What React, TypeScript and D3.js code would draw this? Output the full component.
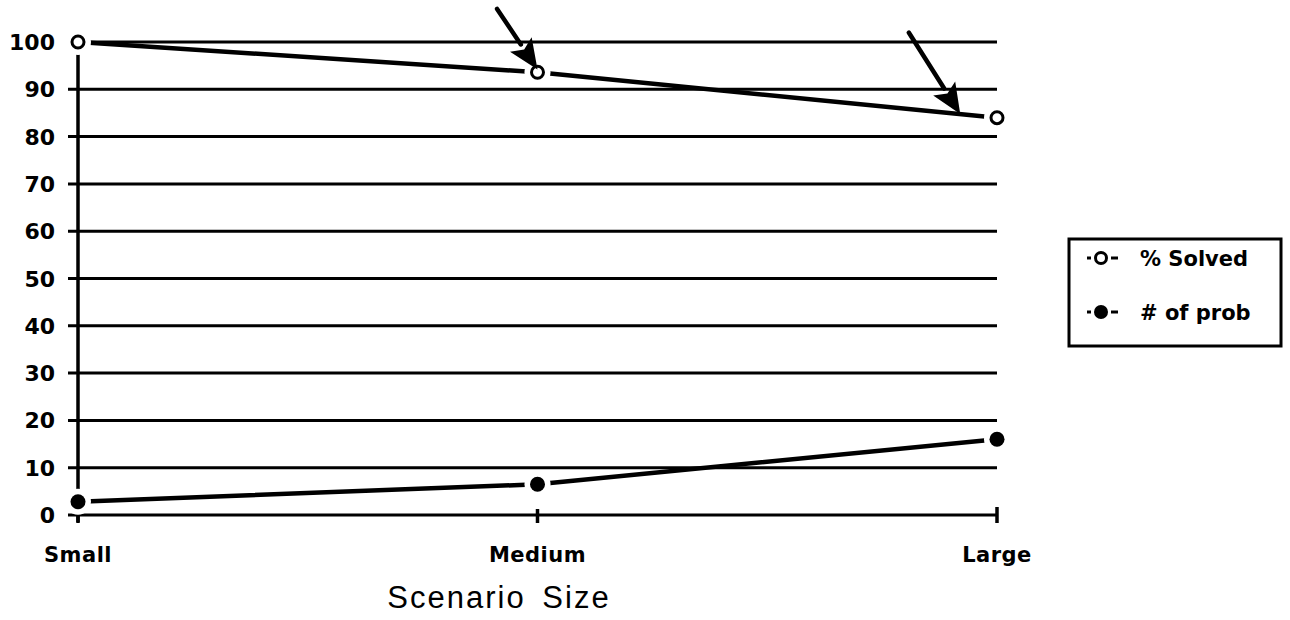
import { useEffect, useRef } from 'react';
import * as d3 from 'd3';

// chart values
const categories = ['Small', 'Medium', 'Large'];
const pctSolved = [100, 93.6, 84];
const numProb = [2.8, 6.5, 16];
const yTicks = [0, 10, 20, 30, 40, 50, 60, 70, 80, 90, 100];
const legendLabels = ['% Solved', '# of prob'];
// annotation arrows: [tailIndex, tailValue, tipIndex, tipValue]
const arrows = [
  [0.912, 107, 1.0, 94.2],
  [1.808, 102, 1.92, 84.8],
];

const WIDTH = 1290;
const HEIGHT = 620;
const FONT = '"Liberation Sans", Arial, sans-serif';
const BOLD = '"DejaVu Sans", Verdana, sans-serif';

export default function App() {
  const svgRef = useRef<SVGSVGElement>(null);

  useEffect(() => {
    if (!svgRef.current) return;
    const svg = d3.select(svgRef.current);
    svg.selectAll('*').remove();

    const x = d3.scaleLinear().domain([0, categories.length - 1]).range([78, 997]);
    const y = d3.scaleLinear().domain([0, 100]).range([515, 42]);

    const g = svg.append('g');

    // horizontal grid lines (with small left tick)
    g.selectAll('line.grid')
      .data(yTicks)
      .enter()
      .append('line')
      .attr('class', 'grid')
      .attr('x1', x(0) - 10)
      .attr('x2', x(2))
      .attr('y1', (d) => y(d))
      .attr('y2', (d) => y(d))
      .attr('stroke', '#000')
      .attr('stroke-width', 3);

    // y axis line
    g.append('line')
      .attr('x1', x(0))
      .attr('x2', x(0))
      .attr('y1', y(100))
      .attr('y2', y(0) + 7)
      .attr('stroke', '#000')
      .attr('stroke-width', 3.5);

    // x ticks
    g.selectAll('line.xtick')
      .data(categories)
      .enter()
      .append('line')
      .attr('x1', (_, i) => x(i))
      .attr('x2', (_, i) => x(i))
      .attr('y1', (_, i) => y(0) - (i === 2 ? 8 : 6))
      .attr('y2', y(0) + 8)
      .attr('stroke', '#000')
      .attr('stroke-width', 3.5);

    // y labels
    g.selectAll('text.ylab')
      .data(yTicks)
      .enter()
      .append('text')
      .attr('x', 55)
      .attr('y', (d) => y(d) + 8)
      .attr('text-anchor', 'end')
      .attr('font-family', BOLD)
      .attr('font-weight', 'bold')
      .attr('font-size', 22)
      .text((d) => d);

    // x labels
    g.selectAll('text.xlab')
      .data(categories)
      .enter()
      .append('text')
      .attr('x', (_, i) => x(i))
      .attr('y', 562)
      .attr('text-anchor', 'middle')
      .attr('font-family', BOLD)
      .attr('font-weight', 'bold')
      .attr('font-size', 21)
      .attr('letter-spacing', 0.5)
      .text((d) => d);

    // axis title
    g.append('text')
      .attr('x', 499)
      .attr('y', 608)
      .attr('text-anchor', 'middle')
      .attr('font-family', FONT)
      .attr('font-size', 31)
      .attr('letter-spacing', 2)
      .attr('word-spacing', 6)
      .text('Scenario Size');

    const line = d3
      .line<number>()
      .x((_, i) => x(i))
      .y((d) => y(d));

    [pctSolved, numProb].forEach((series) => {
      g.append('path')
        .datum(series)
        .attr('fill', 'none')
        .attr('stroke', '#000')
        .attr('stroke-width', 4.5)
        .attr('d', line);
    });

    // markers with white halo
    const drawMarker = (cx: number, cy: number, open: boolean) => {
      g.append('circle').attr('cx', cx).attr('cy', cy).attr('r', 13).attr('fill', '#fff');
      if (open) {
        g.append('circle')
          .attr('cx', cx)
          .attr('cy', cy)
          .attr('r', 6)
          .attr('fill', '#fff')
          .attr('stroke', '#000')
          .attr('stroke-width', 3);
      } else {
        g.append('circle').attr('cx', cx).attr('cy', cy).attr('r', 7.5).attr('fill', '#000');
      }
    };
    pctSolved.forEach((v, i) => drawMarker(x(i), y(v), true));
    numProb.forEach((v, i) => drawMarker(x(i), y(v), false));

    // annotation arrows
    arrows.forEach(([ti, tv, hi, hv]) => {
      const x0 = x(ti);
      const y0 = y(tv);
      const x1 = x(hi);
      const y1 = y(hv);
      const ang = Math.atan2(y1 - y0, x1 - x0);
      const len = 30;
      const hw = 13;
      const bx = x1 - len * Math.cos(ang);
      const by = y1 - len * Math.sin(ang);
      g.append('line')
        .attr('x1', x0)
        .attr('y1', y0)
        .attr('x2', bx)
        .attr('y2', by)
        .attr('stroke', '#000')
        .attr('stroke-width', 4.5)
        .attr('stroke-linecap', 'round');
      const pts: [number, number][] = [
        [x1, y1],
        [bx + hw * Math.sin(ang), by - hw * Math.cos(ang)],
        [bx + 6 * Math.cos(ang), by + 6 * Math.sin(ang)],
        [bx - hw * Math.sin(ang), by + hw * Math.cos(ang)],
      ];
      g.append('polygon')
        .attr('points', pts.map((p) => p.join(',')).join(' '))
        .attr('fill', '#000');
    });

    // legend
    const lg = svg.append('g').attr('transform', 'translate(1069,239)');
    lg.append('rect')
      .attr('width', 212)
      .attr('height', 107)
      .attr('fill', '#fff')
      .attr('stroke', '#000')
      .attr('stroke-width', 3);
    legendLabels.forEach((label, i) => {
      const cy = 19 + i * 54;
      lg.append('line')
        .attr('x1', 18)
        .attr('x2', 22)
        .attr('y1', cy)
        .attr('y2', cy)
        .attr('stroke', '#000')
        .attr('stroke-width', 3);
      lg.append('line')
        .attr('x1', 42)
        .attr('x2', 49)
        .attr('y1', cy)
        .attr('y2', cy)
        .attr('stroke', '#000')
        .attr('stroke-width', 3);
      if (i === 0) {
        lg.append('circle')
          .attr('cx', 32)
          .attr('cy', cy)
          .attr('r', 5.5)
          .attr('fill', '#fff')
          .attr('stroke', '#000')
          .attr('stroke-width', 3);
      } else {
        lg.append('circle').attr('cx', 32).attr('cy', cy).attr('r', 7).attr('fill', '#000');
      }
      lg.append('text')
        .attr('x', 71)
        .attr('y', cy + 8)
        .attr('font-family', BOLD)
        .attr('font-weight', 'bold')
        .attr('font-size', 21)
        .text(label);
    });
  }, []);

  return (
    <svg
      ref={svgRef}
      width={WIDTH}
      height={HEIGHT}
      style={{ position: 'absolute', left: 0, top: 0, background: '#fff' }}
    />
  );
}
